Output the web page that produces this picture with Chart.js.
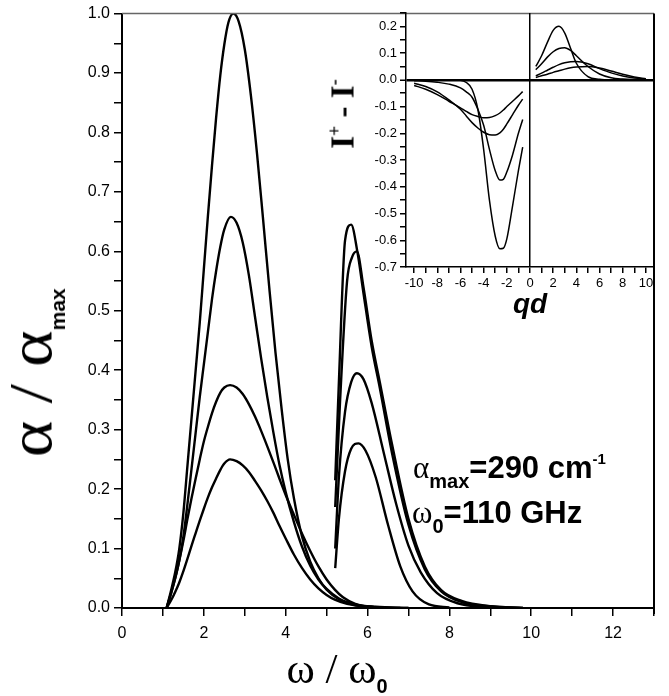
<!DOCTYPE html>
<html lang="en">
<head>
<meta charset="UTF-8">
<title>Absorption spectra</title>
<script src="https://cdn.jsdelivr.net/npm/chart.js@4.4.0/dist/chart.umd.min.js"></script>
<style>
  body { margin: 0; background: #fff; }
  #wrap { position: relative; width: 669px; height: 696px; }
  #wrap canvas { position: absolute; top: 0; }
  #main { left: 0; }
  #inset { left: 320px; }
  .lbl { position: absolute; white-space: nowrap; color: #000; line-height: 1; }
  .gr { font-family: 'Liberation Serif', serif; }
  .sb { font-family: 'Liberation Sans', Arial, sans-serif; font-weight: bold; }
  #ytitle { left: 30px; top: 366px; transform: translate(-50%, -50%) rotate(-90deg); font-size: 62px; }
  #ytitle .gr { display: inline-block; transform: scaleX(1.12); transform-origin: right center; }
  #ytitle .sub { top: 14px; font-size: 21px; }
  #xtitle { left: 337px; top: 668px; transform: translate(-50%, -50%); font-size: 43px; }
  #iytitle { left: 343px; top: 114px; transform: translate(-50%, -50%) rotate(-90deg); font-size: 33px; font-weight: bold; }
  #iytitle .sup { top: -13px; font-size: 18px; }
  .sub { position: relative; top: 10px; font-size: 20px; }
  .sup { position: relative; top: -14px; font-size: 15px; }
  #note1 { left: 413px; top: 452px; font-size: 31px; }
  #note2 { left: 412px; top: 497px; font-size: 31px; }
</style>
</head>
<body>
<div id="wrap">
  <canvas id="main" width="669" height="696"></canvas>
  <canvas id="inset" width="349" height="330"></canvas>
  <div class="lbl" id="ytitle"><span class="gr">&alpha; / &alpha;</span><span class="sb sub">max</span></div>
  <div class="lbl" id="xtitle"><span class="gr">&omega; / &omega;</span><span class="sb sub">0</span></div>
  <div class="lbl gr" id="iytitle">I<span class="sup">+</span> - I<span class="sup">-</span></div>
  <div class="lbl" id="note1"><span class="gr">&alpha;</span><span class="sb sub">max</span><span class="sb">=290 cm</span><span class="sb sup">-1</span></div>
  <div class="lbl" id="note2"><span class="gr">&omega;</span><span class="sb sub">0</span><span class="sb">=110 GHz</span></div>
</div>

<script>
  // main panel, low frequency peak (4 curves)
  const w1 = [1.09, 1.2, 1.3, 1.4, 1.5, 1.6, 1.7, 1.8, 1.9, 2.0, 2.1, 2.2, 2.3, 2.4, 2.5, 2.6, 2.72, 2.85, 3.0, 3.15, 3.3, 3.45, 3.6, 3.75, 3.9, 4.05, 4.2, 4.4, 4.6, 4.8, 5.0, 5.3, 5.7, 6.2];
  const a1 = [0, 0.03, 0.06, 0.1, 0.16, 0.24, 0.32, 0.4, 0.48, 0.57, 0.66, 0.745, 0.825, 0.895, 0.948, 0.985, 1.0, 0.987, 0.94, 0.862, 0.764, 0.652, 0.538, 0.43, 0.335, 0.25, 0.185, 0.12, 0.078, 0.05, 0.031, 0.015, 0.005, 0.001];
  const w2 = [1.09, 1.2, 1.3, 1.4, 1.5, 1.6, 1.7, 1.8, 1.9, 2.0, 2.1, 2.2, 2.3, 2.4, 2.5, 2.66, 2.8, 2.95, 3.1, 3.25, 3.4, 3.55, 3.7, 3.85, 4.0, 4.2, 4.4, 4.6, 4.8, 5.0, 5.3, 5.7, 6.2, 7.0];
  const a2 = [0, 0.025, 0.05, 0.08, 0.12, 0.175, 0.235, 0.295, 0.355, 0.41, 0.465, 0.52, 0.567, 0.607, 0.637, 0.658, 0.648, 0.615, 0.56, 0.49, 0.42, 0.355, 0.295, 0.24, 0.195, 0.145, 0.103, 0.071, 0.048, 0.032, 0.016, 0.006, 0.002, 0];
  const w3 = [1.09, 1.2, 1.3, 1.4, 1.5, 1.6, 1.7, 1.8, 1.9, 2.0, 2.1, 2.2, 2.3, 2.4, 2.5, 2.64, 2.8, 2.95, 3.1, 3.25, 3.4, 3.55, 3.7, 3.85, 4.0, 4.2, 4.4, 4.6, 4.8, 5.0, 5.2, 5.4, 5.7, 6.2, 7.0];
  const a3 = [0, 0.025, 0.05, 0.08, 0.113, 0.15, 0.185, 0.218, 0.25, 0.28, 0.305, 0.328, 0.347, 0.362, 0.371, 0.375, 0.371, 0.36, 0.343, 0.322, 0.298, 0.272, 0.245, 0.217, 0.19, 0.157, 0.125, 0.096, 0.07, 0.048, 0.031, 0.018, 0.007, 0.001, 0];
  const w4 = [1.09, 1.2, 1.3, 1.4, 1.5, 1.6, 1.7, 1.8, 1.9, 2.0, 2.1, 2.2, 2.3, 2.4, 2.5, 2.64, 2.8, 2.95, 3.1, 3.25, 3.4, 3.55, 3.7, 3.85, 4.0, 4.2, 4.4, 4.6, 4.8, 5.0, 5.2, 5.5, 6.0, 6.8];
  const a4 = [0, 0.013, 0.027, 0.043, 0.062, 0.083, 0.105, 0.126, 0.147, 0.167, 0.186, 0.203, 0.218, 0.232, 0.243, 0.25, 0.247, 0.24, 0.229, 0.214, 0.198, 0.18, 0.16, 0.138, 0.117, 0.09, 0.067, 0.048, 0.033, 0.022, 0.014, 0.007, 0.002, 0];
  // high frequency peak (4 curves)
  const w5 = [5.21, 5.3, 5.45, 5.6, 5.75, 5.9, 6.1, 6.3, 6.6, 7.0, 7.4, 7.8, 8.3, 9.0, 9.8];
  const a5 = [0.215, 0.38, 0.618, 0.645, 0.6, 0.53, 0.44, 0.37, 0.26, 0.14, 0.065, 0.028, 0.01, 0.003, 0];
  const w6 = [5.21, 5.33, 5.5, 5.62, 5.74, 5.9, 6.1, 6.3, 6.6, 7.0, 7.4, 7.8, 8.3, 9.0, 9.8];
  const a6 = [0.17, 0.35, 0.55, 0.59, 0.6, 0.54, 0.45, 0.38, 0.275, 0.15, 0.07, 0.03, 0.012, 0.003, 0];
  const w7 = [5.21, 5.3, 5.45, 5.6, 5.74, 5.9, 6.1, 6.4, 6.7, 7.0, 7.3, 7.7, 8.2, 9.0];
  const a7 = [0.10, 0.22, 0.33, 0.38, 0.395, 0.385, 0.345, 0.26, 0.175, 0.105, 0.06, 0.025, 0.008, 0.001];
  const w8 = [5.21, 5.3, 5.45, 5.6, 5.78, 5.95, 6.2, 6.5, 6.8, 7.1, 7.5, 8.0];
  const a8 = [0.067, 0.15, 0.23, 0.268, 0.277, 0.265, 0.22, 0.14, 0.07, 0.028, 0.006, 0.001];

  const xTicks = [0, 1, 2, 3, 4, 5, 6, 7, 8, 9, 10, 11, 12, 13];
  const yTicks = [0, 0.05, 0.1, 0.15, 0.2, 0.25, 0.3, 0.35, 0.4, 0.45, 0.5, 0.55, 0.6, 0.65, 0.7, 0.75, 0.8, 0.85, 0.9, 0.95, 1.0];

  // inset: I+ - I- against qd
  const qPos = [0.5, 1, 1.5, 2, 2.5, 3, 3.5, 4, 5, 6, 7, 8, 9, 10];
  const pA = [0.05, 0.09, 0.14, 0.185, 0.2, 0.175, 0.118, 0.062, 0.012, 0.002, 0, 0, 0, 0];
  const pB = [0.038, 0.06, 0.085, 0.105, 0.117, 0.12, 0.11, 0.09, 0.05, 0.022, 0.008, 0.003, 0.001, 0];
  const pC = [0.015, 0.025, 0.036, 0.047, 0.057, 0.064, 0.068, 0.069, 0.06, 0.042, 0.026, 0.014, 0.007, 0.003];
  const pD = [0.009, 0.015, 0.021, 0.028, 0.034, 0.04, 0.045, 0.048, 0.05, 0.044, 0.033, 0.021, 0.011, 0.004];
  const qNeg = [-10, -9, -8, -7, -6, -5.5, -5, -4.5, -4, -3.5, -3, -2.6, -2.3, -2, -1.5, -1, -0.63];
  const n1 = [0, 0, 0, 0, -0.002, -0.01, -0.035, -0.11, -0.26, -0.45, -0.585, -0.632, -0.63, -0.595, -0.47, -0.34, -0.252];
  const n2 = [-0.003, -0.005, -0.009, -0.016, -0.03, -0.045, -0.065, -0.11, -0.17, -0.26, -0.34, -0.375, -0.372, -0.345, -0.28, -0.2, -0.148];
  const n3 = [-0.013, -0.025, -0.045, -0.075, -0.11, -0.135, -0.16, -0.18, -0.196, -0.205, -0.206, -0.198, -0.185, -0.165, -0.13, -0.095, -0.072];
  const n4 = [-0.021, -0.035, -0.055, -0.08, -0.105, -0.118, -0.13, -0.137, -0.142, -0.141, -0.134, -0.124, -0.113, -0.1, -0.08, -0.06, -0.044];

  const qTicks = [-10, -9, -8, -7, -6, -5, -4, -3, -2, -1, 0, 1, 2, 3, 4, 5, 6, 7, 8, 9, 10];
  const iTicks = [-0.7, -0.65, -0.6, -0.55, -0.5, -0.45, -0.4, -0.35, -0.3, -0.25, -0.2, -0.15, -0.1, -0.05, 0, 0.05, 0.1, 0.15, 0.2, 0.25];

  const sans = 'Liberation Sans, Arial, sans-serif';

  function pts(xs, ys) {
    return xs.map((x, i) => ({x: x, y: ys[i]}));
  }
  function curve(xs, ys, w) {
    return {
      data: pts(xs, ys),
      showLine: true,
      borderColor: '#000',
      borderWidth: w,
      pointRadius: 0,
      cubicInterpolationMode: 'monotone'
    };
  }
  function even(v) { return Math.round(v * 100) % 10 === 0; }
  function isZero(v) { return Math.abs(v) < 1e-9; }

  // top and right edges of the plot box
  const frame = {
    id: 'frame',
    afterDraw(chart) {
      const a = chart.chartArea, c = chart.ctx;
      c.save();
      c.strokeStyle = '#666';
      c.lineWidth = 1.5;
      c.beginPath(); c.moveTo(a.left, a.top); c.lineTo(a.right, a.top); c.stroke();
      c.strokeStyle = '#000';
      c.lineWidth = 2;
      c.beginPath(); c.moveTo(a.right, a.top); c.lineTo(a.right, a.bottom + 6); c.stroke();
      c.restore();
    }
  };

  new Chart(document.getElementById('main'), {
    type: 'scatter',
    data: {
      datasets: [
        curve(w1, a1, 2.4), curve(w2, a2, 2.4), curve(w3, a3, 2.4), curve(w4, a4, 2.4),
        curve(w5, a5, 2.4), curve(w6, a6, 2.4), curve(w7, a7, 2.4), curve(w8, a8, 2.4)
      ]
    },
    options: {
      responsive: false,
      animation: false,
      layout: { padding: { top: 13, right: 15, left: 0, bottom: 0 } },
      plugins: { legend: { display: false }, tooltip: { enabled: false } },
      scales: {
        x: {
          type: 'linear', min: 0, max: 13,
          afterBuildTicks: s => { s.ticks = xTicks.map(v => ({value: v})); },
          afterFit: s => { s.height = 88; },
          border: { color: '#000', width: 2 },
          grid: { drawOnChartArea: false, color: '#000', lineWidth: 1.5, tickLength: 8 },
          ticks: {
            autoSkip: false, maxRotation: 0, padding: 8, color: '#000',
            font: { family: sans, size: 16 },
            callback: v => (v % 2 === 0 ? String(v) : '')
          }
        },
        y: {
          type: 'linear', min: 0, max: 1,
          afterBuildTicks: s => { s.ticks = yTicks.map(v => ({value: v})); },
          afterFit: s => { s.width = 122; },
          border: { color: '#000', width: 2 },
          grid: { drawOnChartArea: false, color: '#000', lineWidth: 1.5, tickLength: 8 },
          ticks: {
            autoSkip: false, padding: 4, color: '#000',
            font: { family: sans, size: 16 },
            callback: v => (even(v) ? v.toFixed(1) : '')
          }
        }
      }
    },
    plugins: [frame]
  });

  new Chart(document.getElementById('inset'), {
    type: 'scatter',
    data: {
      datasets: [
        curve(qPos, pA, 1.5), curve(qPos, pB, 1.5), curve(qPos, pC, 1.5), curve(qPos, pD, 1.5),
        curve(qNeg, n1, 1.5), curve(qNeg, n2, 1.5), curve(qNeg, n3, 1.5), curve(qNeg, n4, 1.5)
      ]
    },
    options: {
      responsive: false,
      animation: false,
      layout: { padding: { top: 13, right: 15, left: 0, bottom: 0 } },
      plugins: { legend: { display: false }, tooltip: { enabled: false } },
      scales: {
        x: {
          type: 'linear', min: -10.7, max: 10.7,
          afterBuildTicks: s => { s.ticks = qTicks.map(v => ({value: v})); },
          afterFit: s => { s.height = 63; },
          border: { color: '#000', width: 1.5 },
          grid: {
            color: c => (c.tick && c.tick.value === 0 ? '#000' : 'rgba(0,0,0,0)'),
            tickColor: '#000', lineWidth: 1.5, tickLength: 6
          },
          ticks: {
            autoSkip: false, maxRotation: 0, padding: 3, color: '#000',
            font: { family: sans, size: 13 },
            callback: v => (v % 2 === 0 ? String(v) : '')
          },
          title: {
            display: true, text: 'qd', color: '#000', padding: { top: 0, bottom: 8 },
            font: { family: sans, size: 28, weight: 'bold', style: 'italic' }
          }
        },
        y: {
          type: 'linear', min: -0.7, max: 0.25,
          afterBuildTicks: s => { s.ticks = iTicks.map(v => ({value: v})); },
          afterFit: s => { s.width = 86; },
          border: { color: '#000', width: 1.5 },
          grid: {
            color: c => (c.tick && isZero(c.tick.value) ? '#000' : 'rgba(0,0,0,0)'),
            lineWidth: c => (c.tick && isZero(c.tick.value) ? 2.5 : 1.5),
            tickColor: '#000', tickWidth: 1.5, tickLength: 6
          },
          ticks: {
            autoSkip: false, padding: 3, color: '#000',
            font: { family: sans, size: 13 },
            callback: v => (even(v) ? (isZero(v) ? '0.0' : v.toFixed(1)) : '')
          }
        }
      }
    }
  });
</script>
</body>
</html>
